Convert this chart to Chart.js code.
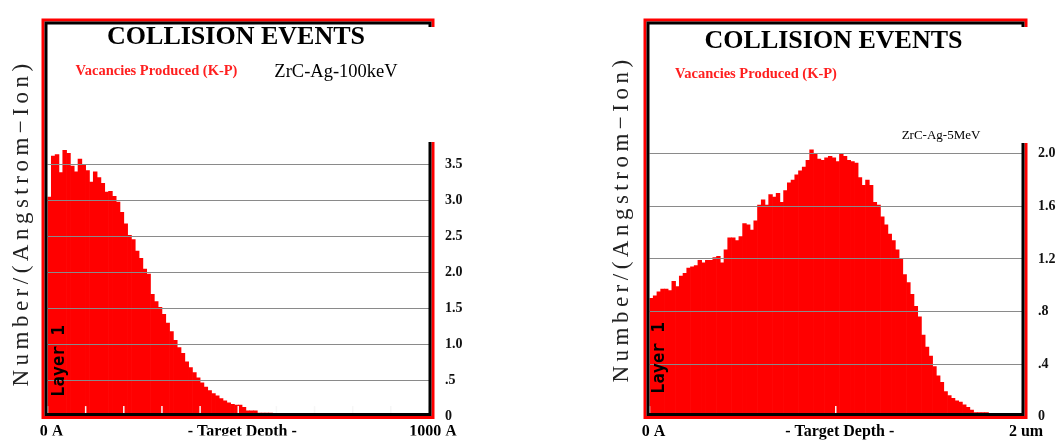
<!DOCTYPE html>
<html>
<head>
<meta charset="utf-8">
<script src="https://cdn.jsdelivr.net/npm/chart.js@4.4.1/dist/chart.umd.min.js"></script>
<style>
    html, body { margin: 0; padding: 0; background: #fff; }
    #wrap { position: relative; width: 1059px; height: 441px; overflow: hidden; }
    canvas { position: absolute; top: 0; }
    #chart-left { left: 0; }
    #chart-right { left: 530px; }
</style>
</head>
<body>
<div id="wrap">
    <canvas id="chart-left" width="530" height="441"></canvas>
    <canvas id="chart-right" width="529" height="441"></canvas>
</div>
<script>
// SRIM "Collision Events" plots, 100 depth bins per target
const TITLE = 'COLLISION EVENTS';
const SERIES_LABEL = 'Vacancies Produced (K-P)';
const Y_TITLE = 'Number/(Angstrom\u2212Ion)';
const LAYER_LABEL = 'Layer 1';

// Left: ZrC-Ag-100keV, depth 0..1000 A
const leftName = 'ZrC-Ag-100keV';
const leftDepthMax = 1000;
const leftVacancies = [
    3.05, 3.62, 3.64, 3.39, 3.70, 3.66, 3.48, 3.40, 3.58, 3.50,
    3.42, 3.26, 3.40, 3.32, 3.24, 3.12, 3.13, 3.06, 2.98, 2.84,
    2.68, 2.52, 2.46, 2.30, 2.20, 2.05, 1.98, 1.70, 1.60, 1.52,
    1.42, 1.30, 1.18, 1.06, 0.96, 0.88, 0.76, 0.68, 0.61, 0.54,
    0.47, 0.41, 0.36, 0.32, 0.29, 0.25, 0.22, 0.19, 0.17, 0.16,
    0.16, 0.13, 0.08, 0.08, 0.08, 0.05, 0.05, 0.05, 0.05, 0.035,
    0.035, 0.03, 0.03, 0.03, 0.03, 0.03, 0.01, 0.01, 0.01, 0,
    0, 0, 0, 0, 0, 0, 0, 0, 0, 0,
    0, 0, 0, 0, 0, 0, 0, 0, 0, 0,
    0, 0, 0, 0, 0, 0, 0, 0, 0, 0
];
const leftYTicks = [0, 0.5, 1, 1.5, 2, 2.5, 3, 3.5];
const leftYLabels = ['0', '.5', '1.0', '1.5', '2.0', '2.5', '3.0', '3.5'];
const leftXTicks = [0, 100, 200, 300, 400, 500, 600, 700, 800, 900, 1000];
const leftXLabelValues = [0, 500, 1000];
const leftXLabelText = ['0 A', '- Target Depth -', '1000 A'];

// Right: ZrC-Ag-5MeV, depth 0..2 um (20000 A)
const rightName = 'ZrC-Ag-5MeV';
const rightDepthMax = 20000;
const rightVacancies = [
    0.90, 0.92, 0.95, 0.97, 0.97, 0.96, 1.03, 0.99, 1.07, 1.09,
    1.13, 1.14, 1.15, 1.19, 1.17, 1.19, 1.19, 1.21, 1.22, 1.17,
    1.27, 1.36, 1.36, 1.34, 1.37, 1.47, 1.46, 1.42, 1.49, 1.61,
    1.65, 1.61, 1.69, 1.67, 1.70, 1.63, 1.72, 1.78, 1.80, 1.84,
    1.87, 1.90, 1.95, 2.03, 2.00, 1.96, 1.95, 1.97, 1.98, 1.97,
    1.94, 2.00, 1.98, 1.95, 1.94, 1.93, 1.82, 1.76, 1.80, 1.76,
    1.63, 1.61, 1.52, 1.46, 1.39, 1.34, 1.27, 1.20, 1.08, 1.02,
    0.93, 0.84, 0.76, 0.62, 0.53, 0.46, 0.38, 0.31, 0.26, 0.19,
    0.16, 0.14, 0.12, 0.11, 0.09, 0.07, 0.05, 0.03, 0.03, 0.03,
    0.03, 0.02, 0.01, 0.01, 0, 0, 0, 0, 0, 0
];
const rightYTicks = [0, 0.4, 0.8, 1.2, 1.6, 2.0];
const rightYLabels = ['0', '.4', '.8', '1.2', '1.6', '2.0'];
const rightXTicks = [0, 10000, 20000];
const rightXLabelValues = [0, 10000, 20000];
const rightXLabelText = ['0 A', '- Target Depth -', '2 um'];

const SERIF = '"Liberation Serif", "Times New Roman", serif';

// small white tick marks standing inside the bottom edge
const innerTicks = {
    id: 'innerTicks',
    afterDatasetsDraw(chart, args, opts) {
        const { ctx, chartArea: a, scales: { x } } = chart;
        ctx.save();
        ctx.strokeStyle = '#f6f6f6';
        ctx.lineWidth = 1.5;
        opts.values.forEach(v => {
            const px = x.getPixelForValue(v);
            ctx.beginPath();
            ctx.moveTo(px, a.bottom - 3.5);
            ctx.lineTo(px, a.bottom - 10.5);
            ctx.stroke();
        });
        ctx.restore();
    }
};

// black box with a red outline, right side only below the axis top
const frame = {
    id: 'frame',
    afterDraw(chart, args, opts) {
        const { ctx, chartArea: a } = chart;
        const l = a.left - 1.5, t = a.top - 1.5, r = a.right + 1, b = a.bottom - 2;
        const stroke = (d, color) => {
            ctx.strokeStyle = color;
            ctx.lineWidth = 3;
            ctx.beginPath();
            ctx.moveTo(r + d, t + 4);
            ctx.lineTo(r + d, t - d);
            ctx.lineTo(l - d, t - d);
            ctx.lineTo(l - d, b + d);
            ctx.lineTo(r + d, b + d);
            ctx.lineTo(r + d, opts.axisTop);
            ctx.stroke();
        };
        ctx.save();
        ctx.lineJoin = 'miter';
        stroke(3, '#ff0000');
        stroke(0, '#000000');
        ctx.restore();
    }
};

// free texts: title, legend text, rotated axis title, layer tag
const texts = {
    id: 'texts',
    afterDraw(chart, args, opts) {
        const ctx = chart.ctx;
        opts.items.forEach(t => {
            ctx.save();
            ctx.translate(t.x, t.y);
            if (t.rotate) ctx.rotate(-Math.PI / 2);
            ctx.font = t.font;
            ctx.fillStyle = t.color;
            ctx.letterSpacing = t.spacing || '0px';
            ctx.textAlign = 'center';
            ctx.textBaseline = 'middle';
            ctx.fillText(t.text, 0, 0);
            ctx.restore();
        });
    }
};

function makeChart(id, cfg) {
    const bin = cfg.depthMax / cfg.values.length;
    return new Chart(document.getElementById(id), {
        type: 'bar',
        data: {
            datasets: [{
                data: cfg.values.map((v, i) => ({ x: (i + 0.5) * bin, y: v })),
                backgroundColor: '#ff0000',
                borderWidth: 0,
                barPercentage: 1,
                categoryPercentage: 1
            }]
        },
        options: {
            responsive: false,
            animation: false,
            events: [],
            layout: { padding: cfg.padding },
            plugins: {
                legend: { display: false },
                tooltip: { enabled: false },
                innerTicks: { values: cfg.xTicks },
                frame: { axisTop: cfg.axisTop },
                texts: { items: cfg.texts }
            },
            scales: {
                x: {
                    type: 'linear',
                    min: 0,
                    max: cfg.depthMax,
                    offset: false,
                    grid: { display: false, drawTicks: false, offset: false },
                    border: { display: false },
                    afterBuildTicks: s => { s.ticks = cfg.xLabelValues.map(v => ({ value: v })); },
                    afterFit: s => { s.height = cfg.xAxisHeight; },
                    ticks: {
                        autoSkip: false,
                        maxRotation: 0,
                        padding: cfg.xLabelPadding,
                        labelOffset: 4,
                        color: '#000',
                        font: { family: SERIF, size: 16, weight: 'bold' },
                        callback: v => cfg.xLabelText[cfg.xLabelValues.indexOf(v)]
                    }
                },
                y: {
                    position: 'right',
                    min: 0,
                    max: cfg.yMax,
                    grid: { color: '#8a8a8a', lineWidth: 1, drawTicks: false, z: 1 },
                    border: { display: false },
                    afterBuildTicks: s => { s.ticks = cfg.yTicks.map(v => ({ value: v })); },
                    afterFit: s => { s.width = cfg.yAxisWidth; },
                    ticks: {
                        padding: 16,
                        color: '#111',
                        font: { family: SERIF, size: 14, weight: 'bold' },
                        callback: v => cfg.yLabels[cfg.yTicks.indexOf(v)]
                    }
                }
            }
        },
        plugins: [innerTicks, frame, texts]
    });
}

function sharedTexts(pos) {
    return [
        { text: TITLE, x: pos.title[0], y: pos.title[1], font: `bold 26px ${SERIF}`, color: '#000' },
        { text: SERIES_LABEL, x: pos.series[0], y: pos.series[1], font: `bold 14.5px ${SERIF}`, color: '#ff1f1f' },
        { text: Y_TITLE, x: pos.yTitle[0], y: pos.yTitle[1], rotate: true, spacing: '4.5px', font: `23px ${SERIF}`, color: '#222' },
        { text: LAYER_LABEL, x: pos.layer[0], y: pos.layer[1], rotate: true, font: `bold 17px "DejaVu Sans Mono", monospace`, color: '#000' }
    ];
}

makeChart('chart-left', {
    values: leftVacancies,
    depthMax: leftDepthMax,
    yMax: 5.45,
    yTicks: leftYTicks,
    yLabels: leftYLabels,
    xTicks: leftXTicks,
    xLabelValues: leftXLabelValues,
    xLabelText: leftXLabelText,
    xLabelPadding: 6,
    padding: { left: 47.5, top: 18, right: 0, bottom: 0 },
    yAxisWidth: 101,
    xAxisHeight: 19,
    axisTop: 142,
    texts: sharedTexts({ title: [236, 37], series: [156.5, 71.5], yTitle: [21.5, 223], layer: [60, 361] })
        .concat([{ text: leftName, x: 336, y: 72, font: `18.5px ${SERIF}`, color: '#000' }])
});

makeChart('chart-right', {
    values: rightVacancies,
    depthMax: rightDepthMax,
    yMax: 2.985,
    yTicks: rightYTicks,
    yLabels: rightYLabels,
    xTicks: rightXTicks,
    xLabelValues: rightXLabelValues,
    xLabelText: rightXLabelText,
    xLabelPadding: 6,
    padding: { left: 119.5, top: 22, right: 0, bottom: 0 },
    yAxisWidth: 37,
    xAxisHeight: 23,
    axisTop: 143,
    texts: sharedTexts({ title: [303.5, 41], series: [226, 74], yTitle: [92, 219], layer: [130, 358] })
        .concat([{ text: rightName, x: 411, y: 136, font: `13px ${SERIF}`, color: '#000' }])
});
</script>
</body>
</html>
